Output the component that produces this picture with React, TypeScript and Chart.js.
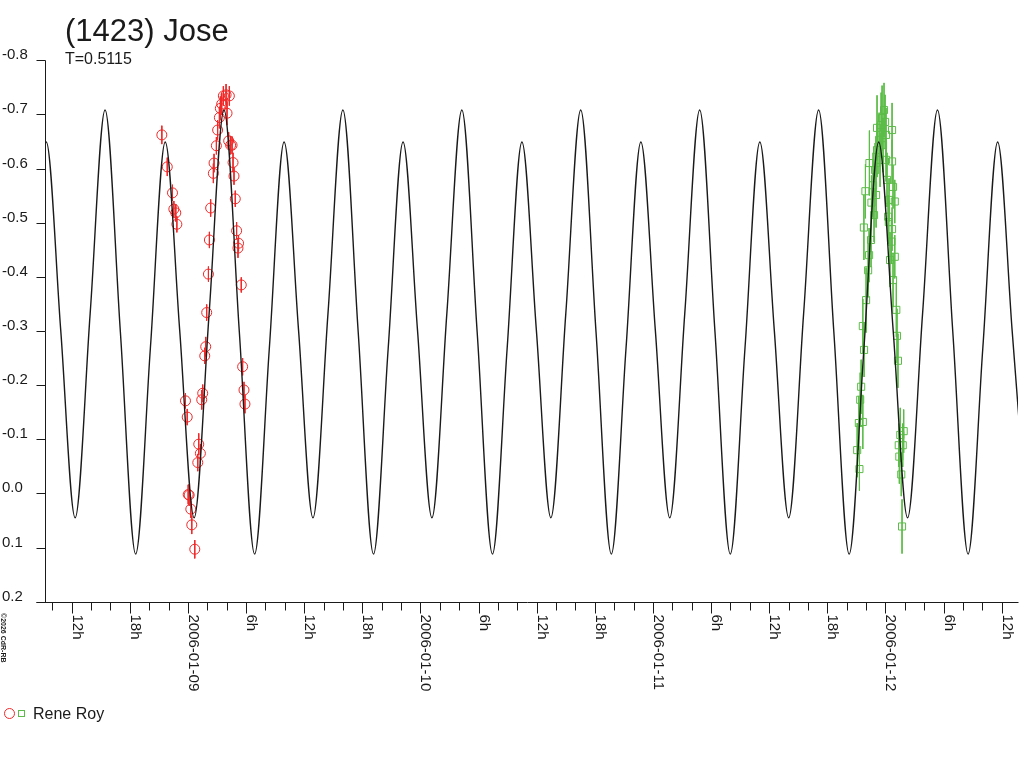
import React, { useEffect, useRef } from 'react';
import { Chart, registerables } from 'chart.js';

Chart.register(...registerables);

// hours are counted from 2006-01-08 00:00
const chartTitle = '(1423) Jose';
const periodText = 'T=0.5115';
const observerName = 'Rene Roy';
const creditText = '\u00a92026 CdR-RB';

// fitted light curve (extrema and mid levels)
const curveHours = [
  7.80,
  9.32, 10.81, 12.30, 13.85, 15.39, 16.97, 18.55, 20.07,
  21.60, 23.09, 24.58, 26.13, 27.67, 29.25, 30.83, 32.35,
  33.87, 35.36, 36.85, 38.40, 39.94, 41.52, 43.10, 44.62,
  46.15, 47.64, 49.13, 50.67, 52.22, 53.80, 55.38, 56.90,
  58.42, 59.91, 61.41, 62.95, 64.49, 66.07, 67.65, 69.17,
  70.70, 72.19, 73.68, 75.23, 76.77, 78.35, 79.93, 81.45,
  82.98, 84.47, 85.96, 87.50, 89.05, 90.62, 92.20, 93.73,
  95.25, 96.74, 98.23, 99.78, 101.32, 102.90, 104.48, 106.00,
  107.53, 109.02, 110.51,
];
const curveMags = [
  -0.270,
  -0.650, -0.303, 0.044, -0.333, -0.709, -0.299, 0.111, -0.270,
  -0.650, -0.303, 0.044, -0.333, -0.709, -0.299, 0.111, -0.270,
  -0.650, -0.303, 0.044, -0.333, -0.709, -0.299, 0.111, -0.270,
  -0.650, -0.303, 0.044, -0.333, -0.709, -0.299, 0.111, -0.270,
  -0.650, -0.303, 0.044, -0.333, -0.709, -0.299, 0.111, -0.270,
  -0.650, -0.303, 0.044, -0.333, -0.709, -0.299, 0.111, -0.270,
  -0.650, -0.303, 0.044, -0.333, -0.709, -0.299, 0.111, -0.270,
  -0.650, -0.303, 0.044, -0.333, -0.709, -0.299, 0.111, -0.270,
  -0.650, -0.303, 0.044,
];

// first night (red circles)
const redHours = [
  21.25, 21.81, 22.35, 22.49, 22.69, 22.80, 23.69, 23.87, 23.97, 24.07,
  24.24, 24.34, 24.65, 24.96, 25.06, 25.23, 25.37, 25.47, 25.68, 25.78,
  25.88, 26.06, 26.16, 26.29, 26.57, 26.64, 26.88, 27.01, 27.19, 27.29,
  27.43, 27.60, 27.88, 27.98, 28.15, 28.22, 28.35, 28.50, 28.60, 28.70,
  28.83, 28.97, 29.11, 29.17, 29.45, 29.59, 29.73, 29.83,
];
const redMags = [
  -0.663, -0.604, -0.556, -0.526, -0.519, -0.498, -0.172, -0.142, 0.001, 0.002,
  0.028, 0.057, 0.102, -0.058, -0.092, -0.075, -0.174, -0.186, -0.255, -0.272,
  -0.335, -0.406, -0.469, -0.528, -0.592, -0.611, -0.643, -0.672, -0.695, -0.712,
  -0.720, -0.735, -0.737, -0.703, -0.652, -0.735, -0.644, -0.644, -0.612, -0.587,
  -0.545, -0.486, -0.454, -0.463, -0.386, -0.235, -0.192, -0.166,
];
const redErrors = [
  0.017, 0.017, 0.015, 0.015, 0.016, 0.015, 0.014, 0.015, 0.018, 0.020,
  0.016, 0.017, 0.017, 0.016, 0.020, 0.017, 0.018, 0.016, 0.015, 0.018,
  0.015, 0.014, 0.015, 0.016, 0.018, 0.017, 0.016, 0.018, 0.020, 0.022,
  0.020, 0.018, 0.020, 0.022, 0.016, 0.018, 0.017, 0.016, 0.018, 0.016,
  0.015, 0.016, 0.018, 0.015, 0.014, 0.016, 0.015, 0.017,
];

// second night (green squares)
const greenHours = [
  93.03, 93.20, 93.26, 93.34, 93.44, 93.61, 93.61, 93.72, 93.74, 93.88,
  93.95, 94.16, 94.26, 94.29, 94.46, 94.50, 94.67, 94.77, 94.88, 94.98,
  95.08, 95.08, 95.29, 95.39, 95.50, 95.60, 95.70, 95.80, 95.91, 96.01,
  96.01, 96.11, 96.22, 96.29, 96.32, 96.42, 96.56, 96.63, 96.63, 96.63,
  96.73, 96.73, 96.91, 96.91, 97.07, 97.14, 97.24, 97.32, 97.38, 97.48,
  97.58, 97.66, 97.73, 97.83,
];
const greenMags = [
  -0.081, -0.131, -0.046, -0.174, -0.198, -0.133, -0.310, -0.492, -0.266, -0.559,
  -0.358, -0.413, -0.441, -0.611, -0.469, -0.538, -0.570, -0.515, -0.598, -0.552,
  -0.635, -0.676, -0.654, -0.617, -0.681, -0.694, -0.644, -0.709, -0.687, -0.663,
  -0.617, -0.580, -0.512, -0.502, -0.543, -0.432, -0.466, -0.672, -0.614, -0.489,
  -0.567, -0.395, -0.540, -0.438, -0.340, -0.292, -0.246, -0.090, -0.069, -0.109,
  -0.036, 0.060, -0.090, -0.116,
];
const greenErrors = [
  0.05, 0.05, 0.04, 0.05, 0.05, 0.05, 0.05, 0.06, 0.05, 0.05,
  0.06, 0.05, 0.05, 0.06, 0.05, 0.05, 0.06, 0.05, 0.05, 0.06,
  0.05, 0.06, 0.05, 0.05, 0.06, 0.06, 0.05, 0.05, 0.05, 0.05,
  0.04, 0.05, 0.04, 0.04, 0.04, 0.05, 0.04, 0.05, 0.04, 0.04,
  0.04, 0.05, 0.04, 0.04, 0.05, 0.05, 0.05, 0.04, 0.05, 0.05,
  0.04, 0.05, 0.04, 0.04,
];

const yTickValues = [-0.8, -0.7, -0.6, -0.5, -0.4, -0.3, -0.2, -0.1, 0.0, 0.1, 0.2];
const yTickLabels = ['-0.8', '-0.7', '-0.6', '-0.5', '-0.4', '-0.3', '-0.2', '-0.1', '0.0', '0.1', '0.2'];
const xMajorHours = [12, 18, 24, 30, 36, 42, 48, 54, 60, 66, 72, 78, 84, 90, 96, 102, 108];
const xMajorLabels = [
  '12h', '18h', '2006-01-09', '6h', '12h', '18h', '2006-01-10', '6h', '12h',
  '18h', '2006-01-11', '6h', '12h', '18h', '2006-01-12', '6h', '12h',
];

const RED = '#f02828';
const GREEN = '#5cbc48';
const INK = '#1a1a1a';
const FONT = '"Liberation Sans", Arial, sans-serif';

function errorSegments(hours: number[], mags: number[], errs: number[]) {
  const out: { x: number; y: number | null }[] = [];
  hours.forEach((h, i) => {
    out.push({ x: h, y: mags[i] - errs[i] });
    out.push({ x: h, y: mags[i] + errs[i] });
    out.push({ x: h, y: null });
  });
  return out;
}

const decorations = {
  id: 'cdrDecorations',
  afterDraw(chart: any) {
    const { ctx, chartArea } = chart;
    const xs = chart.scales.x;
    const ys = chart.scales.y;
    const px = (v: number) => Math.floor(v) + 0.5;
    ctx.save();
    ctx.strokeStyle = INK;
    ctx.fillStyle = INK;
    ctx.lineWidth = 1;

    // axis lines
    const axX = px(chartArea.left);
    const axY = px(chartArea.bottom);
    ctx.beginPath();
    ctx.moveTo(axX, px(chartArea.top));
    ctx.lineTo(axX, axY);
    ctx.moveTo(axX - 9, axY);
    ctx.lineTo(px(chartArea.right), axY);
    ctx.stroke();

    // y ticks and labels
    ctx.font = `15px ${FONT}`;
    ctx.textAlign = 'left';
    ctx.textBaseline = 'alphabetic';
    yTickValues.forEach((v, i) => {
      const y = px(ys.getPixelForValue(v));
      ctx.beginPath();
      ctx.moveTo(axX - 9, y);
      ctx.lineTo(axX, y);
      ctx.stroke();
      ctx.fillText(yTickLabels[i], 2, y - 2);
    });

    // x ticks: every 2 h, longer every 6 h
    for (let h = 10; h <= xs.max; h += 2) {
      const x = px(xs.getPixelForValue(h));
      const len = h % 6 === 0 ? 11 : 8;
      ctx.beginPath();
      ctx.moveTo(x, axY);
      ctx.lineTo(x, axY + len);
      ctx.stroke();
    }
    ctx.font = `15px ${FONT}`;
    xMajorHours.forEach((h, i) => {
      const x = xs.getPixelForValue(h);
      ctx.save();
      ctx.translate(x + 0.5, axY + 12);
      ctx.rotate(Math.PI / 2);
      ctx.textAlign = 'left';
      ctx.textBaseline = 'alphabetic';
      ctx.fillText(xMajorLabels[i], 0, 0);
      ctx.restore();
    });

    // credit
    ctx.save();
    ctx.font = `bold 7px ${FONT}`;
    ctx.translate(1, 613);
    ctx.rotate(Math.PI / 2);
    ctx.fillText(creditText, 0, 0);
    ctx.restore();

    // title
    ctx.font = `31px ${FONT}`;
    ctx.fillText(chartTitle, 65, 41);
    ctx.font = `16px ${FONT}`;
    ctx.fillText(periodText, 65, 63.5);

    // legend
    ctx.strokeStyle = RED;
    ctx.beginPath();
    ctx.arc(9.5, 713.5, 5, 0, Math.PI * 2);
    ctx.stroke();
    ctx.strokeStyle = GREEN;
    ctx.strokeRect(18.5, 710.5, 6, 6);
    ctx.fillStyle = INK;
    ctx.font = `16px ${FONT}`;
    ctx.fillText(observerName, 33, 719);
    ctx.restore();
  },
};

export default function App() {
  const canvasRef = useRef<HTMLCanvasElement>(null);
  const chartRef = useRef<Chart | null>(null);

  useEffect(() => {
    if (!canvasRef.current) return;
    if (chartRef.current) chartRef.current.destroy();

    chartRef.current = new Chart(canvasRef.current, {
      type: 'scatter',
      data: {
        datasets: [
          {
            label: 'fit',
            data: curveHours.map((h, i) => ({ x: h, y: curveMags[i] })),
            showLine: true,
            borderColor: INK,
            borderWidth: 1.4,
            pointRadius: 0,
            cubicInterpolationMode: 'monotone',
            order: 0,
          },
          {
            label: observerName,
            data: redHours.map((h, i) => ({ x: h, y: redMags[i] })),
            pointStyle: 'circle',
            pointRadius: 5,
            borderColor: RED,
            backgroundColor: 'rgba(0,0,0,0)',
            borderWidth: 1,
            order: 1,
          },
          {
            label: observerName + ' (2)',
            data: greenHours.map((h, i) => ({ x: h, y: greenMags[i] })),
            pointStyle: 'rect',
            pointRadius: 5,
            borderColor: GREEN,
            backgroundColor: 'rgba(0,0,0,0)',
            borderWidth: 1,
            order: 1,
          },
          {
            label: 'red errors',
            data: errorSegments(redHours, redMags, redErrors),
            showLine: true,
            spanGaps: false,
            borderColor: RED,
            borderWidth: 1,
            pointRadius: 0,
            order: 2,
          },
          {
            label: 'green errors',
            data: errorSegments(greenHours, greenMags, greenErrors),
            showLine: true,
            spanGaps: false,
            borderColor: GREEN,
            borderWidth: 1,
            pointRadius: 0,
            order: 2,
          },
        ],
      },
      options: {
        animation: false,
        responsive: true,
        maintainAspectRatio: false,
        events: [],
        layout: { padding: { left: 45.3, top: 60.7, right: 2.5, bottom: 165.7 } },
        plugins: {
          legend: { display: false },
          tooltip: { enabled: false },
          title: { display: false },
        },
        scales: {
          x: { type: 'linear', min: 9.22, max: 109.63, display: false },
          y: { type: 'linear', min: -0.8, max: 0.2, reverse: true, display: false },
        },
      },
      plugins: [decorations],
    });

    return () => {
      if (chartRef.current) {
        chartRef.current.destroy();
        chartRef.current = null;
      }
    };
  }, []);

  return (
    <div style={{ position: 'fixed', left: 0, top: 0, width: 1024, height: 768, background: '#fff' }}>
      <canvas ref={canvasRef}></canvas>
    </div>
  );
}
